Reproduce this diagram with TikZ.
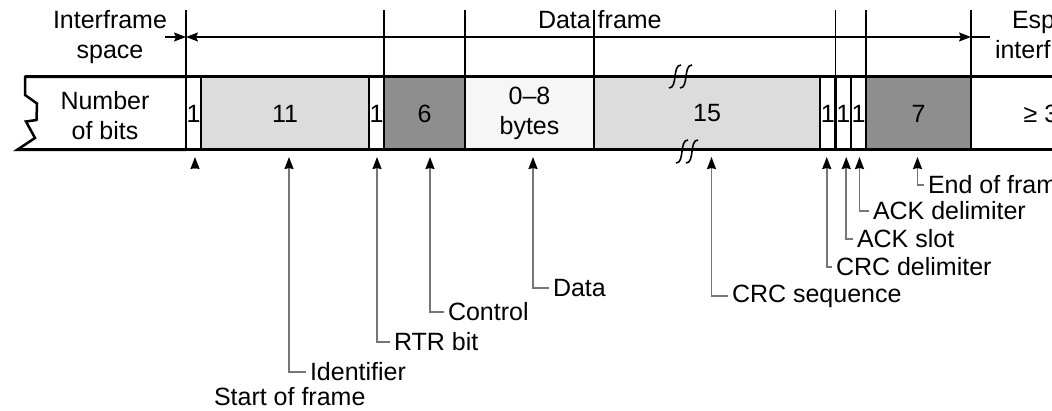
\documentclass[tikz,border=0pt]{standalone}
\usepackage{fontspec}
\setmainfont{Liberation Sans}
\usetikzlibrary{arrows.meta,calc}
\definecolor{lightfield}{HTML}{DCDCDC}
\definecolor{darkfield}{HTML}{8E8E8E}
\definecolor{palefield}{HTML}{F6F6F6}
\definecolor{leader}{HTML}{767676}

\begin{document}
\begin{tikzpicture}[x=1pt,y=-1pt,
  every node/.style={font=\fontsize{25}{30}\selectfont},
  field/.style={draw=black,line width=2.5pt,inner sep=0pt,outer sep=0pt,
    minimum height=73pt,anchor=north west,align=center},
  txt/.style={inner sep=0pt,outer sep=0pt},
  lab/.style={anchor=west,inner xsep=4pt,inner ysep=0pt,outer sep=0pt},
  tickline/.style={line width=1.5pt},
  dimline/.style={line width=1.5pt},
  dimtip/.tip={Stealth[length=12pt,width=9pt,inset=2pt]},
  conn/.style={draw=leader,line width=1.6pt,-{Stealth[black,length=12pt,width=9pt,inset=1pt]}},
  breakmark/.style={line width=1.6pt}
]
\useasboundingbox (0,0) rectangle (1052,411);

% --- bit fields of the frame ---
\node[field,minimum width=15pt] (sof) at (186,77) {1};
\node[field,minimum width=168pt,fill=lightfield] (id) at (201,77) {11};
\node[field,minimum width=15pt] (rtr) at (369,77) {1};
\node[field,minimum width=81pt,fill=darkfield] (ctl) at (384,77) {6};
\node[field,minimum width=129pt,fill=palefield] (dat) at (465,77) {0–8\\bytes};
\node[field,minimum width=226pt,fill=lightfield] (crc) at (594,77) {15};
\node[field,minimum width=15.5pt] (crcd) at (820,77) {1};
\node[field,minimum width=15.5pt] (ack) at (835.5,77) {1};
\node[field,minimum width=15pt] (ackd) at (851,77) {1};
\node[field,minimum width=105pt,fill=darkfield] (eof) at (866,77) {7};
\node[field,minimum width=140pt] (ifs) at (971,77) {≥ 3};

% leading field with torn left edge
\draw[line width=2.5pt,line join=miter]
  (sof.north west) -- (25,77) -- (25,95) -- (37,103.5) -- (36.5,120)
  -- (26,121.5) -- (35,138) -- (17,150) -- (sof.south west);
\node[txt,align=center] (nb) at (105,116) {Number\\of bits};

% heavy top and bottom rules of the row
\draw[line width=3pt] (25,77) -- (1052,77);
\draw[line width=3pt] (17,150) -- (1052,150);

% break marks on the CRC field
\foreach \x/\y in {669/88,680/88,676/163,686/163}
  \draw[breakmark] (\x,\y) .. controls (\x+9,\y) and (\x+3,\y-23) .. (\x+12,\y-23);

% --- boundary ticks and span arrows above the row ---
\foreach \n in {sof,ctl,dat,crc,ack,eof,ifs}
  \draw[tickline] (\n.north west) -- ++(0,-67);

\coordinate (dimL) at (165,37);
\coordinate (dimR) at (990,37);
\draw[dimline,-dimtip] (dimL) -- (sof.north west |- dimL);
\draw[dimline,dimtip-dimtip] (sof.north west |- dimL) -- (ifs.north west |- dimL);
\draw[dimline] (ifs.north west |- dimL) -- (dimR);

\node[txt,align=center] (ifsl) at (110,37) {Interframe\\space};
\node[txt,anchor=base west] (dfl) at (538,29) {Data frame};
\node[txt,anchor=base west] (ifsr1) at (1012,29) {Esp};
\node[txt,anchor=base west] (ifsr2) at (995,59) {interf};

% --- field names below the row ---
\node[lab] (lsof) at (210,397) {Start of frame};
\node[lab] (lid) at (306,372) {Identifier};
\node[lab] (lrtr) at (390,342) {RTR bit};
\node[lab] (lctl) at (444,312) {Control};
\node[lab] (ldat) at (549,288) {Data};
\node[lab] (lcrc) at (728,296) {CRC sequence};
\node[lab] (lcrcd) at (832,267) {CRC delimiter};
\node[lab] (lack) at (853,239) {ACK slot};
\node[lab] (lackd) at (869,211) {ACK delimiter};
\node[lab] (leof) at (924,185) {End of fram};

\draw[conn] ([xshift=1.5pt,yshift=-19pt]sof.south) -- ([xshift=1.5pt,yshift=-7pt]sof.south);
\draw[conn] (lid.west) -| ([xshift=4pt,yshift=-7pt]id.south);
\draw[conn] (lrtr.west) -| ([xshift=0.5pt,yshift=-7pt]rtr.south);
\draw[conn] (lctl.west) -| ([xshift=5.5pt,yshift=-7pt]ctl.south);
\draw[conn] (ldat.west) -| ([xshift=3.5pt,yshift=-7pt]dat.south);
\draw[conn] (lcrc.west) -| ([xshift=4.5pt,yshift=-7pt]crc.south);
\draw[conn] (lcrcd.west) -| ([xshift=-1pt,yshift=-7pt]crcd.south);
\draw[conn] (lack.west) -| ([xshift=3pt,yshift=-7pt]ack.south);
\draw[conn] (lackd.west) -| ([xshift=1pt,yshift=-7pt]ackd.south);
\draw[conn] (leof.west) -| ([xshift=-1pt,yshift=-7pt]eof.south);
\end{tikzpicture}
\end{document}
